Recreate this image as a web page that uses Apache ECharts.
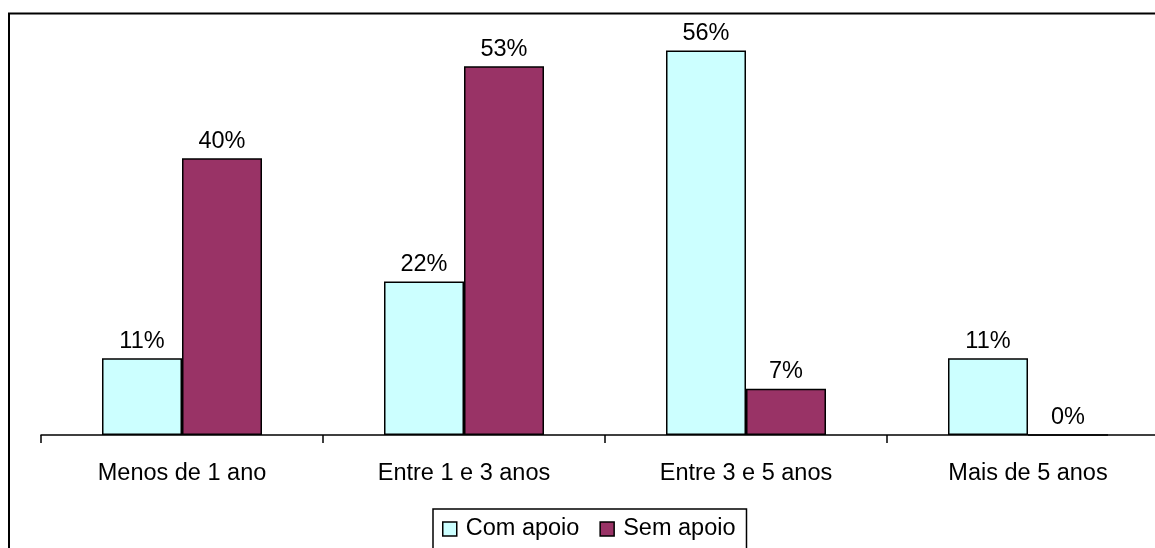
<!DOCTYPE html>
<html>
<head>
<meta charset="utf-8">
<script src="https://cdn.jsdelivr.net/npm/echarts@6/dist/echarts.min.js"></script>
<style>
html,body{margin:0;padding:0;background:#fff;overflow:hidden;}
#chart{width:1169px;height:548px;}
</style>
</head>
<body>
<div id="chart"></div>
<script>
var categories = ['Menos de 1 ano', 'Entre 1 e 3 anos', 'Entre 3 e 5 anos', 'Mais de 5 anos'];
var seriesNames = ['Com apoio', 'Sem apoio'];
var comApoio = [11.1, 22.2, 55.6, 11.1];
var semApoio = [40.0, 53.3, 6.7, 0];

var FONT = '"Liberation Sans", Arial, sans-serif';
var chart = echarts.init(document.getElementById('chart'));

function labelCfg() {
  return {
    show: true,
    position: 'top',
    distance: 5,
    color: '#000',
    fontFamily: FONT,
    fontSize: 23.5,
    formatter: function (p) { return Math.round(p.value) + '%'; }
  };
}

chart.setOption({
  animation: false,
  backgroundColor: '#fff',
  textStyle: { fontFamily: FONT },
  graphic: [{
    type: 'rect',
    shape: { x: 9, y: 13.5, width: 1200, height: 600 },
    style: { fill: 'none', stroke: '#000', lineWidth: 2 },
    silent: true,
    z: 100
  }],
  grid: { left: 41, top: 20, height: 415, right: 0, containLabel: false },
  legend: {
    data: seriesNames,
    icon: 'rect',
    left: 433,
    top: 509,
    padding: [8, 11, 8, 9],
    itemWidth: 14,
    itemHeight: 14,
    itemGap: 20,
    backgroundColor: '#fff',
    borderColor: '#000',
    borderWidth: 1.5,
    borderRadius: 0,
    textStyle: { color: '#000', fontSize: 23.5, fontFamily: FONT, padding: [0, 0, 0, 4] },
    itemStyle: { borderColor: '#000', borderWidth: 1.5 }
  },
  xAxis: {
    type: 'category',
    data: categories,
    axisLine: { show: true, lineStyle: { color: '#000', width: 1.5 } },
    axisTick: { show: true, length: 8, alignWithLabel: false, lineStyle: { color: '#000', width: 1.5 } },
    axisLabel: { color: '#000', fontSize: 23.5, fontFamily: FONT, margin: 27, interval: 0 }
  },
  yAxis: {
    type: 'value',
    min: 0,
    max: 60,
    show: false,
    splitLine: { show: false }
  },
  series: [
    {
      name: seriesNames[0],
      type: 'bar',
      data: comApoio,
      barWidth: 80,
      barGap: '0%',
      itemStyle: { color: '#CCFFFF', borderColor: '#000', borderWidth: 1.5 },
      label: labelCfg()
    },
    {
      name: seriesNames[1],
      type: 'bar',
      data: semApoio,
      barWidth: 80,
      barGap: '0%',
      itemStyle: { color: '#993366', borderColor: '#000', borderWidth: 1.5 },
      label: labelCfg()
    }
  ]
});
</script>
</body>
</html>
